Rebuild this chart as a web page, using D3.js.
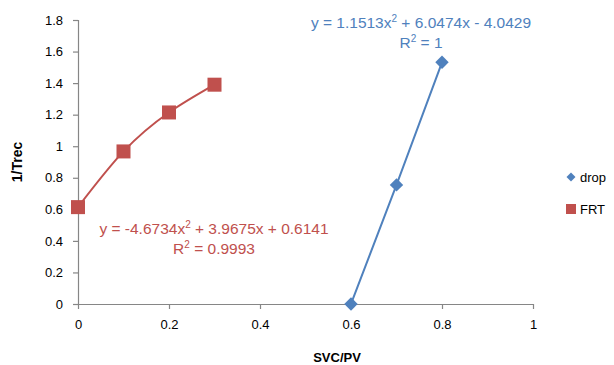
<!DOCTYPE html>
<html>
<head>
<meta charset="utf-8">
<script src="https://cdn.jsdelivr.net/npm/d3@7"></script>
<style>
  body { margin: 0; background: #fff; }
  text { font-family: 'Liberation Sans', Arial, sans-serif; }
</style>
</head>
<body>
<svg></svg>
<script>
let width = 614;
let height = 365;

const dropX = [0.6, 0.7, 0.8];
const dropY = [0, 0.755, 1.532];
const frtX = [0, 0.1, 0.2, 0.3];
const frtY = [0.614, 0.967, 1.214, 1.39];
const xTicks = [0, 0.2, 0.4, 0.6, 0.8, 1];
const yTicks = [0, 0.2, 0.4, 0.6, 0.8, 1, 1.2, 1.4, 1.6, 1.8];
const dropEq = ['y = 1.1513x', '2', ' + 6.0474x - 4.0429'];
const dropR2 = '1';
const frtEq = ['y = -4.6734x', '2', ' + 3.9675x + 0.6141'];
const frtR2 = '0.9993';

const blue = '#4f81bd';
const red = '#c0504d';
const axisColor = '#868686';

let x = d3.scaleLinear().domain([0, 1]).range([78, 533]);
let y = d3.scaleLinear().domain([0, 1.8]).range([304, 20]);

let svg = d3.select('svg')
            .attr('width', width)
            .attr('height', height);

// axes
let xAxis = svg.append('g')
  .attr('transform', `translate(0, ${y(0)})`)
  .call(d3.axisBottom(x).tickValues(xTicks).tickSize(5).tickPadding(8)
    .tickFormat(d => d3.format('')(d)));
let yAxis = svg.append('g')
  .attr('transform', `translate(${x(0)}, 0)`)
  .call(d3.axisLeft(y).tickValues(yTicks).tickSize(5).tickPadding(10)
    .tickFormat(d => d3.format('')(d)));

[xAxis, yAxis].forEach(a => {
  a.select('.domain').attr('stroke', axisColor).attr('stroke-width', 1.2);
  a.selectAll('.tick line').attr('stroke', axisColor).attr('stroke-width', 1.2);
  a.selectAll('.tick text')
    .attr('fill', '#000')
    .style('font-size', '13px')
    .style('font-family', "'Liberation Sans', Arial, sans-serif");
});
xAxis.selectAll('.domain').attr('d', `M${x(0)},0.5H${x(1)}`);
xAxis.selectAll('.tick text').attr('dy', '0.9em');
yAxis.selectAll('.domain').attr('d', `M0.5,${y(0)}V${y(1.8)}`);

// axis titles
svg.append('text')
  .attr('x', 337).attr('y', 362)
  .attr('text-anchor', 'middle')
  .style('font-size', '13px').style('font-weight', 'bold')
  .text('SVC/PV');
svg.append('text')
  .attr('transform', `translate(22, ${y(0.9)}) rotate(-90)`)
  .attr('text-anchor', 'middle')
  .style('font-size', '14px').style('font-weight', 'bold')
  .text('1/Trec');

// trendlines through the points
let line = d3.line()
  .x(d => x(d[0]))
  .y(d => y(d[1]))
  .curve(d3.curveNatural);

let drop = d3.zip(dropX, dropY);
let frt = d3.zip(frtX, frtY);

svg.append('path')
  .attr('d', line(drop))
  .attr('fill', 'none').attr('stroke', blue).attr('stroke-width', 2);
svg.append('path')
  .attr('d', line(frt))
  .attr('fill', 'none').attr('stroke', red).attr('stroke-width', 2);

// markers
let diamond = d3.symbol().type(d3.symbolSquare).size(90);
svg.selectAll('.drop')
  .data(drop)
  .enter()
  .append('path')
    .classed('drop', true)
    .attr('d', diamond)
    .attr('transform', d => `translate(${x(d[0])}, ${y(d[1])}) rotate(45)`)
    .attr('fill', blue);

svg.selectAll('.frt')
  .data(frt)
  .enter()
  .append('rect')
    .classed('frt', true)
    .attr('x', d => x(d[0]) - 7)
    .attr('y', d => y(d[1]) - 7)
    .attr('width', 14).attr('height', 14)
    .attr('fill', red);

// equation labels
function equation(parts, r2, cx, cy, color) {
  let t = svg.append('text')
    .attr('x', cx).attr('y', cy)
    .attr('text-anchor', 'middle')
    .attr('fill', color)
    .style('font-size', '15.5px');
  t.append('tspan').text(parts[0]);
  t.append('tspan').attr('dy', -6).style('font-size', '10px').text(parts[1]);
  t.append('tspan').attr('dy', 6).text(parts[2]);
  let r = svg.append('text')
    .attr('x', cx).attr('y', cy + 20)
    .attr('text-anchor', 'middle')
    .attr('fill', color)
    .style('font-size', '15.5px');
  r.append('tspan').text('R');
  r.append('tspan').attr('dy', -6).style('font-size', '10px').text('2');
  r.append('tspan').attr('dy', 6).text(' = ' + r2);
}
equation(dropEq, dropR2, 421, 28, blue);
equation(frtEq, frtR2, 214, 234, red);

// legend
let legend = svg.append('g').attr('transform', 'translate(571, 0)');
legend.append('path')
  .attr('d', d3.symbol().type(d3.symbolSquare).size(40))
  .attr('transform', 'translate(0, 177) rotate(45)')
  .attr('fill', blue);
legend.append('text')
  .attr('x', 9).attr('y', 182)
  .style('font-size', '13px')
  .text('drop');
legend.append('rect')
  .attr('x', -5).attr('y', 204).attr('width', 10).attr('height', 10)
  .attr('fill', red);
legend.append('text')
  .attr('x', 9).attr('y', 214)
  .style('font-size', '13px')
  .text('FRT');
</script>
</body>
</html>
